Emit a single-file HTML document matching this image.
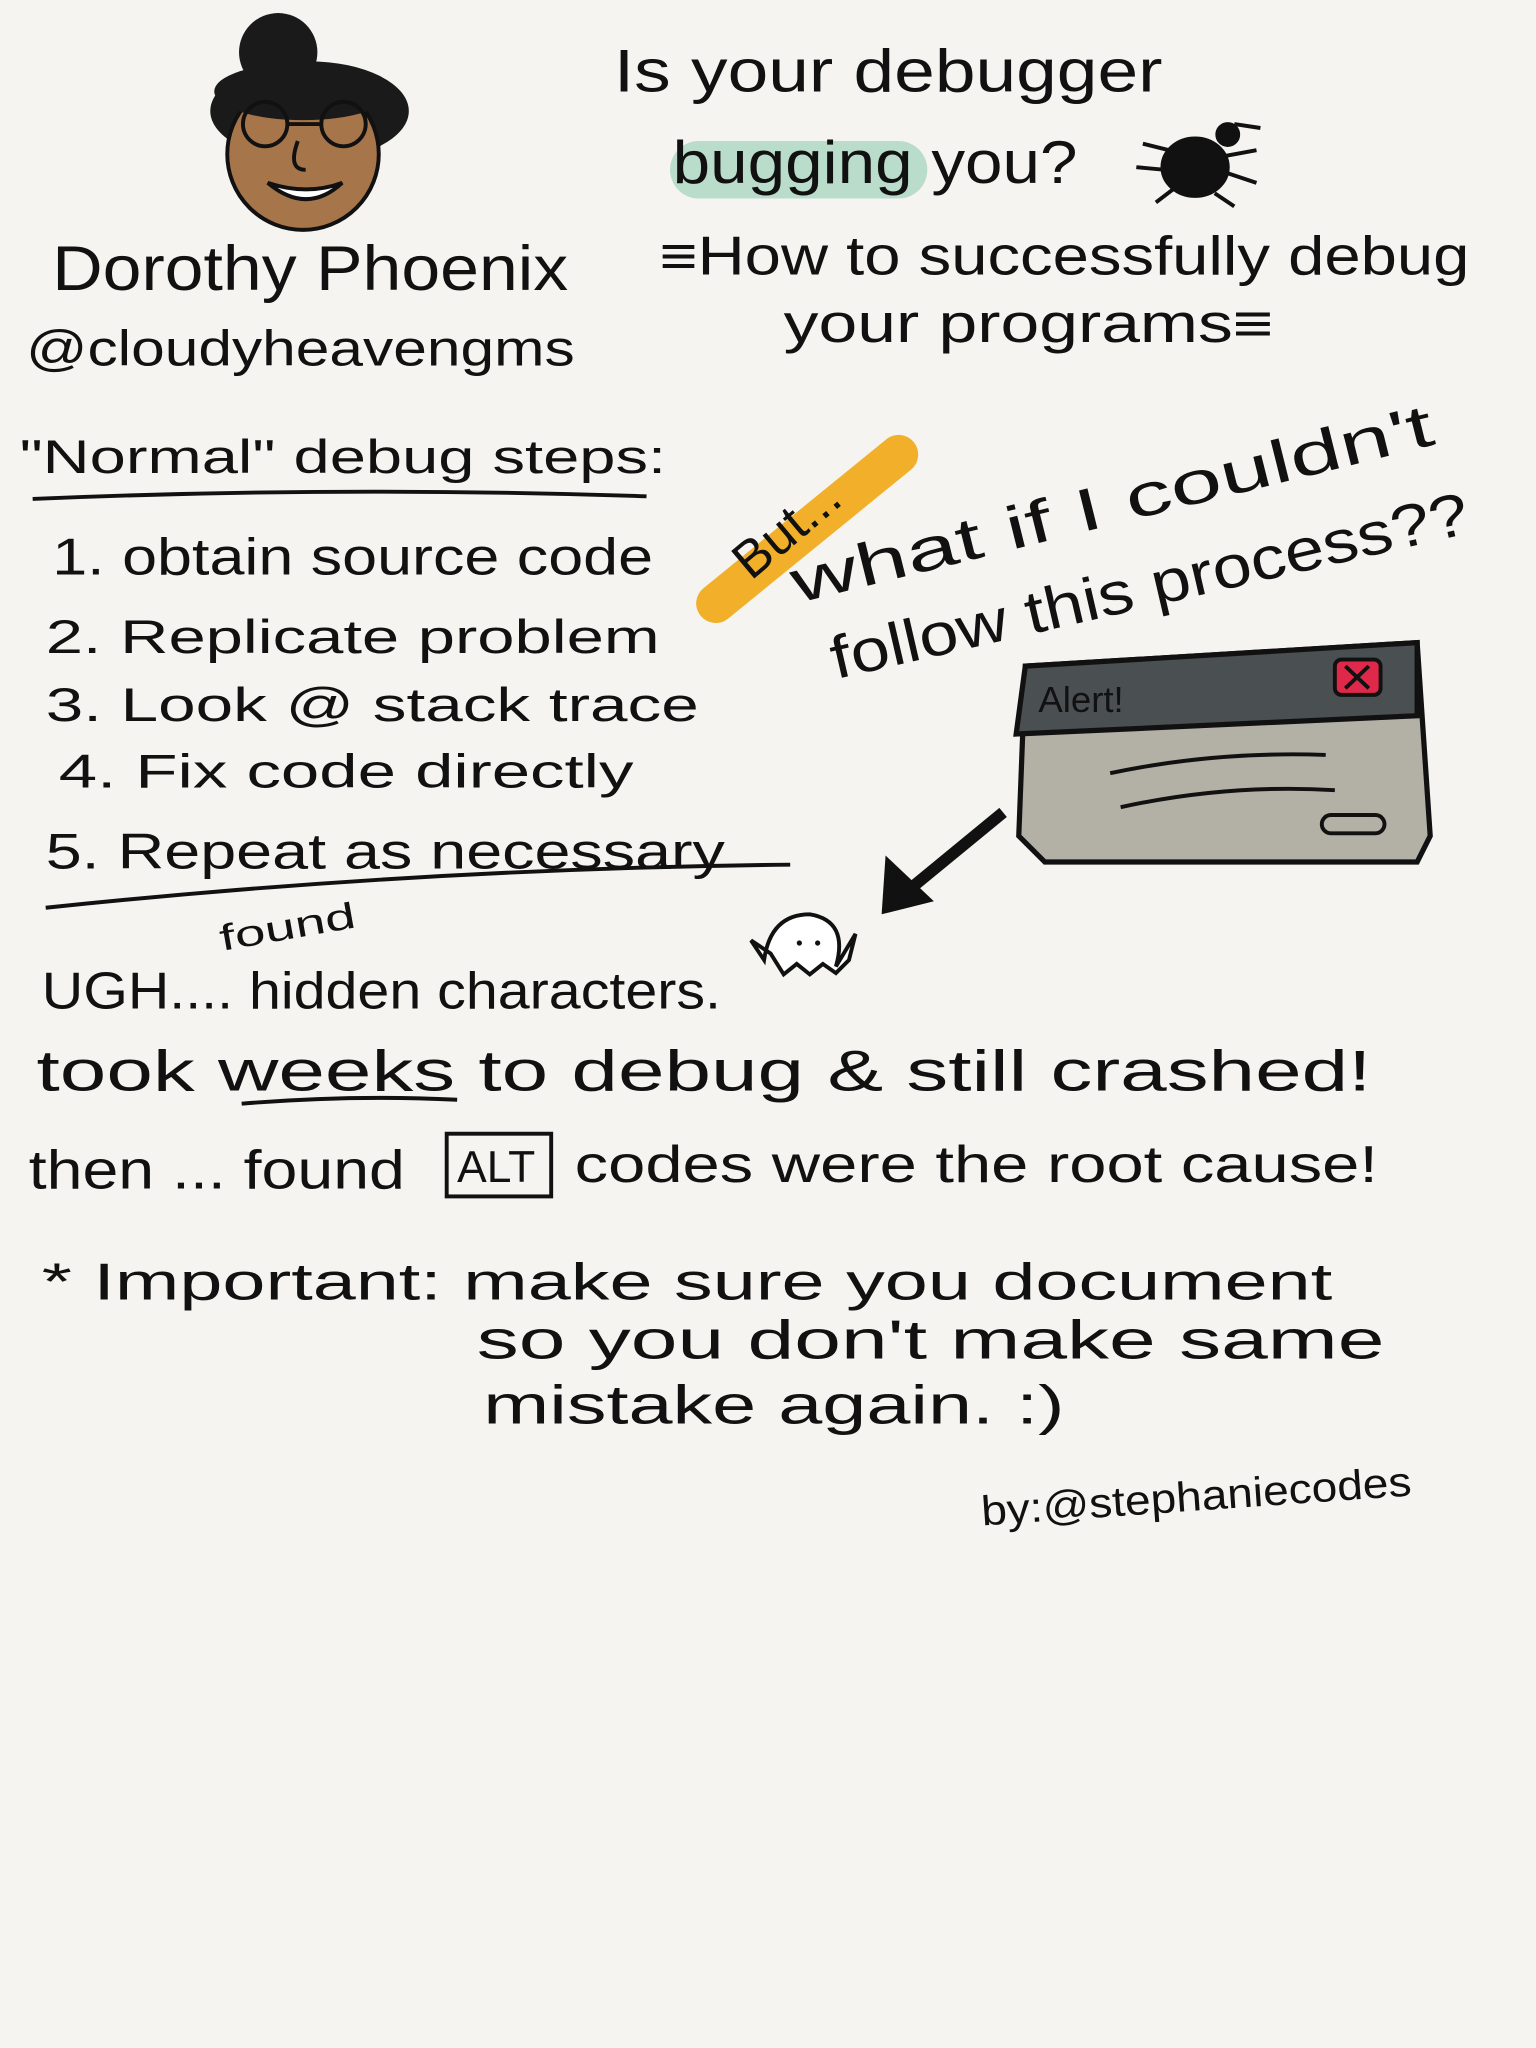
<!DOCTYPE html>
<html><head><meta charset="utf-8"><style>
html,body{margin:0;padding:0;background:#f5f4f0;}
svg{display:block;}
text{font-family:"Liberation Sans",sans-serif;fill:#111;}
</style></head><body>
<svg width="1536" height="2048" viewBox="0 0 1176 1568" xmlns="http://www.w3.org/2000/svg">
<rect width="1176" height="1568" fill="#f5f4f0"/>
<!-- face -->
<g>
<circle cx="213" cy="40" r="30" fill="#1a1a1a"/>
<ellipse cx="237" cy="85" rx="76" ry="38" fill="#1a1a1a"/>
<ellipse cx="232" cy="118" rx="58" ry="58" fill="#a6754a" stroke="#111" stroke-width="3"/>
<ellipse cx="232" cy="70" rx="68" ry="22" fill="#1a1a1a"/>
<circle cx="203" cy="95" r="17" fill="none" stroke="#111" stroke-width="3"/>
<circle cx="263" cy="95" r="17" fill="none" stroke="#111" stroke-width="3"/>
<line x1="220" y1="95" x2="246" y2="95" stroke="#111" stroke-width="3"/>
<path d="M228 108 Q220 130 234 130" fill="none" stroke="#111" stroke-width="3"/>
<path d="M205 140 Q235 165 262 140 Q235 150 205 140Z" fill="#fff" stroke="#111" stroke-width="3"/>
</g>
<!-- title -->
<text x="470" y="70" font-size="46" textLength="420" lengthAdjust="spacingAndGlyphs">Is your debugger</text>
<rect x="513" y="108" width="197" height="44" rx="22" fill="#b9dccb"/>
<text x="515" y="140" font-size="46" textLength="310" lengthAdjust="spacingAndGlyphs">bugging you?</text>
<!-- bug -->
<g stroke="#111" stroke-width="3">
<ellipse cx="915" cy="128" rx="25" ry="22" fill="#111"/>
<circle cx="940" cy="103" r="8" fill="#111"/>
<line x1="895" y1="115" x2="875" y2="110"/><line x1="892" y1="130" x2="870" y2="128"/><line x1="898" y1="145" x2="885" y2="155"/>
<line x1="935" y1="120" x2="962" y2="115"/><line x1="938" y1="132" x2="962" y2="140"/><line x1="930" y1="148" x2="945" y2="158"/>
<line x1="945" y1="95" x2="965" y2="98"/>
</g>
<text x="505" y="210" font-size="42" textLength="620" lengthAdjust="spacingAndGlyphs">≡How to successfully debug</text>
<text x="600" y="262" font-size="42" textLength="375" lengthAdjust="spacingAndGlyphs">your programs≡</text>
<text x="40" y="222" font-size="48" textLength="395" lengthAdjust="spacingAndGlyphs">Dorothy Phoenix</text>
<text x="20" y="280" font-size="38" textLength="420" lengthAdjust="spacingAndGlyphs">@cloudyheavengms</text>
<!-- normal steps -->
<text x="15" y="362" font-size="36" textLength="495" lengthAdjust="spacingAndGlyphs">"Normal" debug steps:</text>
<path d="M25 382 Q260 372 495 380" stroke="#111" stroke-width="3" fill="none"/>
<text x="40" y="440" font-size="40" textLength="460" lengthAdjust="spacingAndGlyphs">1. obtain source code</text>
<text x="35" y="500" font-size="36" textLength="470" lengthAdjust="spacingAndGlyphs">2. Replicate problem</text>
<text x="35" y="552" font-size="36" textLength="500" lengthAdjust="spacingAndGlyphs">3. Look @ stack trace</text>
<text x="45" y="603" font-size="36" textLength="440" lengthAdjust="spacingAndGlyphs">4. Fix code directly</text>
<text x="35" y="665" font-size="38" textLength="520" lengthAdjust="spacingAndGlyphs">5. Repeat as necessary</text>
<path d="M35 695 Q320 665 605 662" stroke="#111" stroke-width="3" fill="none"/>
<!-- But -->
<line x1="548" y1="462" x2="688" y2="348" stroke="#f2b02a" stroke-width="30" stroke-linecap="round"/>
<text x="0" y="0" font-size="40" transform="translate(575,445) rotate(-40)">But...</text>
<text x="0" y="0" font-size="46" transform="translate(610,462) rotate(-14)" textLength="505" lengthAdjust="spacingAndGlyphs">what if I couldn't</text>
<text x="0" y="0" font-size="46" transform="translate(640,520) rotate(-13)" textLength="500" lengthAdjust="spacingAndGlyphs">follow this process??</text>
<!-- alert -->
<path d="M785 510 L1085 492 L1095 640 L1085 660 L800 660 L780 640 Z" fill="#b3b0a6" stroke="#111" stroke-width="4"/>
<path d="M785 510 L1085 492 L1085 548 L778 562 Z" fill="#4a4f52" stroke="#111" stroke-width="4"/>
<text x="795" y="545" font-size="28" fill="#111">Alert!</text>
<rect x="1022" y="505" width="35" height="27" rx="5" fill="#e0294a" stroke="#111" stroke-width="3"/>
<path d="M1030 510 L1048 527 M1048 510 L1030 527" stroke="#111" stroke-width="3"/>
<path d="M850 592 Q930 575 1015 578 M858 618 Q940 600 1022 605" stroke="#111" stroke-width="3" fill="none"/>
<rect x="1012" y="624" width="48" height="14" rx="7" fill="none" stroke="#111" stroke-width="3"/>
<!-- arrow -->
<line x1="768" y1="622" x2="695" y2="682" stroke="#111" stroke-width="9"/>
<polygon points="675,700 678,655 715,690" fill="#111"/>
<!-- ugh -->
<text x="0" y="0" font-size="28" transform="translate(170,728) rotate(-10)" textLength="105" lengthAdjust="spacingAndGlyphs">found</text>
<text x="32" y="772" font-size="40" textLength="520" lengthAdjust="spacingAndGlyphs">UGH.... hidden characters.</text>
<path d="M585 735 Q590 700 620 700 Q650 705 640 740 L655 715 L650 735 L640 745 L630 738 L620 746 L610 738 L600 746 L590 730 L575 720Z" fill="#fff" stroke="#111" stroke-width="3"/>
<circle cx="612" cy="722" r="2" fill="#111"/><circle cx="626" cy="722" r="2" fill="#111"/>
<text x="28" y="835" font-size="44" textLength="1022" lengthAdjust="spacingAndGlyphs">took weeks to debug &amp; still crashed!</text>
<path d="M185 845 Q270 838 350 842" stroke="#111" stroke-width="3" fill="none"/>
<text x="22" y="910" font-size="42" textLength="288" lengthAdjust="spacingAndGlyphs">then ... found</text>
<rect x="342" y="868" width="80" height="48" fill="none" stroke="#111" stroke-width="3"/>
<text x="350" y="905" font-size="34">ALT</text>
<text x="440" y="905" font-size="40" textLength="615" lengthAdjust="spacingAndGlyphs">codes were the root cause!</text>
<text x="32" y="995" font-size="40" textLength="988" lengthAdjust="spacingAndGlyphs">* Important: make sure you document</text>
<text x="365" y="1040" font-size="42" textLength="695" lengthAdjust="spacingAndGlyphs">so you don't make same</text>
<text x="370" y="1090" font-size="42" textLength="445" lengthAdjust="spacingAndGlyphs">mistake again. :)</text>
<text x="0" y="0" font-size="32" transform="translate(752,1168) rotate(-4)" textLength="330" lengthAdjust="spacingAndGlyphs">by:@stephaniecodes</text>
</svg>
</body></html>
